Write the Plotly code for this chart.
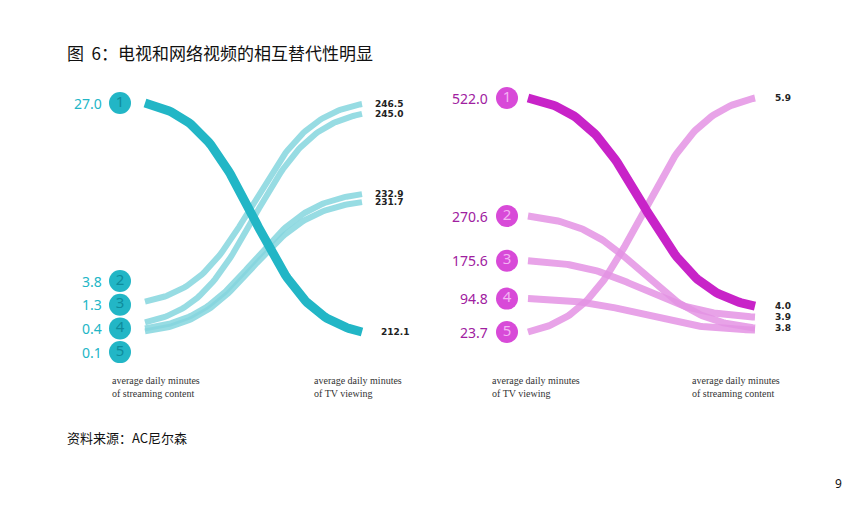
import numpy as np
import plotly.graph_objects as go

W, H = 866, 509

# left panel: streaming (left) -> TV viewing (right)
RANKS = ["1", "2", "3", "4", "5"]
STREAM_LABELS = [27.0, 3.8, 1.3, 0.4, 0.1]
LEFT_START = [27.0, 1.3, 0.4, 0.4, 0.4]        # where each curve leaves the left column
LEFT_END = [212.1, 246.5, 245.0, 232.9, 231.7]  # TV minutes

# right panel: TV viewing (left) -> streaming (right)
TV_LABELS = [522.0, 270.6, 175.6, 94.8, 23.7]
RIGHT_END = [4.0, 3.8, 3.9, 3.8, 5.9]
RIGHT_END_LABELS = [5.9, 4.0, 3.9, 3.8]

TEAL, TEAL_L = "#22B6C6", "#86D6DF"
MAG, MAG_L = "#C823C8", "#E493E4"


def lin(v, vmin, vmax, ytop, ybot):
    return ybot + (v - vmin) / (vmax - vmin) * (ytop - ybot)


def left_label_y(i):
    # first label on top, the rest evenly stacked near the bottom
    return 103 if i == 0 else 281 + (i - 1) * 23.7


def stream_start_y(v):
    offs = {27.0: 0, 1.3: 2, 0.4: 3}
    return left_label_y(offs[v])


def curve(x0, x1, y0, y1, n=100, k=7.0):
    t = np.linspace(0, 1, n)
    s = 1 / (1 + np.exp(-k * (t - 0.5)))
    s = (s - s[0]) / (s[-1] - s[0])
    return x0 + (x1 - x0) * t, y0 + (y1 - y0) * s


fig = go.Figure()

# ---- left panel
x0, x1 = 145, 362
tv_y = lambda v: lin(v, 212.1, 246.5, 104, 332)
start_shift = [0, -3, -6, 0, 3]
for i in [1, 2, 3, 4, 0]:
    ys = stream_start_y(LEFT_START[i]) + start_shift[i]
    xs, yy = curve(x0, x1, ys, tv_y(LEFT_END[i]))
    fig.add_trace(go.Scatter(x=xs, y=yy, mode="lines", hoverinfo="skip",
                             line=dict(color=TEAL if i == 0 else TEAL_L, width=9 if i == 0 else 6),
                             opacity=1 if i == 0 else 0.85))

ly = [left_label_y(i) for i in range(5)]
fig.add_trace(go.Scatter(x=[120] * 5, y=ly, mode="markers+text", text=RANKS,
                         textfont=dict(family="Noto Sans", size=15, color="#0E8C9C"),
                         marker=dict(size=22, color=TEAL), hoverinfo="skip"))
for i, v in enumerate(STREAM_LABELS):
    fig.add_annotation(x=104, y=ly[i], text=f"{v:.1f}", xanchor="right", showarrow=False,
                       font=dict(family="Noto Sans", size=14, color=TEAL))
for v in LEFT_END:
    fig.add_annotation(x=373 + (6 if v == 212.1 else 0), y=tv_y(v), text=f"<b>{v:.1f}</b>", xanchor="left",
                       showarrow=False, font=dict(family="DejaVu Sans", size=9, color="#222"))

# ---- right panel
x0, x1 = 528, 755
tvr_y = lambda v: lin(v, 23.7, 522.0, 98, 332)
st_y = lambda v: lin(v, 3.8, 5.9, 98, 328)
for i in [1, 2, 3, 4, 0]:
    xs, yy = curve(x0, x1, tvr_y(TV_LABELS[i]), st_y(RIGHT_END[i]) + (2 if i == 3 else 0))
    fig.add_trace(go.Scatter(x=xs, y=yy, mode="lines", hoverinfo="skip",
                             line=dict(color=MAG if i == 0 else MAG_L, width=9 if i == 0 else 7),
                             opacity=1 if i == 0 else 0.85))

ry = [tvr_y(v) for v in TV_LABELS]
fig.add_trace(go.Scatter(x=[507] * 5, y=ry, mode="markers+text", text=RANKS,
                         textfont=dict(family="Noto Sans", size=15, color="#F3B4F3"),
                         marker=dict(size=22, color="#D84AD8"), hoverinfo="skip"))
for i, v in enumerate(TV_LABELS):
    fig.add_annotation(x=490, y=ry[i], text=f"{v:.1f}", xanchor="right", showarrow=False,
                       font=dict(family="Noto Sans", size=14, color="#A020A0"))
for v in RIGHT_END_LABELS:
    fig.add_annotation(x=773, y=st_y(v), text=f"<b>{v:.1f}</b>", xanchor="left", showarrow=False,
                       font=dict(family="DejaVu Sans", size=9, color="#222"))

# axis captions
cap = dict(family="Liberation Serif", size=10, color="#333")
for x, txt in [(110, "average daily minutes<br>of streaming content"),
               (312, "average daily minutes<br>of TV viewing"),
               (490, "average daily minutes<br>of TV viewing"),
               (690, "average daily minutes<br>of streaming content")]:
    fig.add_annotation(x=x, y=387, text=txt, xanchor="left", align="left", showarrow=False, font=cap)

fig.add_annotation(x=65, y=52, text="图  6：电视和网络视频的相互替代性明显", xanchor="left", showarrow=False,
                   font=dict(family="Noto Sans CJK SC", size=17, color="#111"))
fig.add_annotation(x=65, y=437, text="资料来源：AC尼尔森", xanchor="left", showarrow=False,
                   font=dict(family="Noto Sans CJK SC", size=13, color="#111"))
fig.add_annotation(x=844, y=483, text="9", xanchor="right", showarrow=False,
                   font=dict(family="Noto Sans", size=12, color="#111"))

# page body adds an 8px offset, so shift the view window by that much
fig.update_layout(width=W, height=H, margin=dict(l=0, r=0, t=0, b=0), showlegend=False,
                  paper_bgcolor="white", plot_bgcolor="white",
                  xaxis=dict(range=[8, W + 8], visible=False, fixedrange=True),
                  yaxis=dict(range=[H + 8, 8], visible=False, fixedrange=True))
fig.write_html("out.html")
